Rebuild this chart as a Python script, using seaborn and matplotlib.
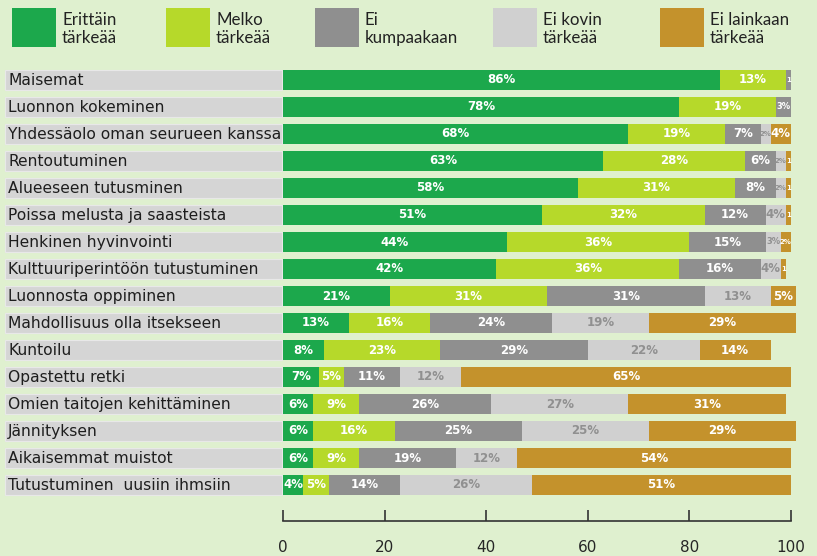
import matplotlib
matplotlib.use("Agg")
import matplotlib.pyplot as plt
import matplotlib.transforms as mtransforms
from matplotlib.patches import Rectangle
import seaborn as sns
import numpy as np
import pandas as pd

categories = [
    "Maisemat",
    "Luonnon kokeminen",
    "Yhdessäolo oman seurueen kanssa",
    "Rentoutuminen",
    "Alueeseen tutusminen",
    "Poissa melusta ja saasteista",
    "Henkinen hyvinvointi",
    "Kulttuuriperintöön tutustuminen",
    "Luonnosta oppiminen",
    "Mahdollisuus olla itsekseen",
    "Kuntoilu",
    "Opastettu retki",
    "Omien taitojen kehittäminen",
    "Jännityksen",
    "Aikaisemmat muistot",
    "Tutustuminen  uusiin ihmsiin",
]
erittain = [86, 78, 68, 63, 58, 51, 44, 42, 21, 13, 8, 7, 6, 6, 6, 4]
melko = [13, 19, 19, 28, 31, 32, 36, 36, 31, 16, 23, 5, 9, 16, 9, 5]
ei_kumpaakaan = [1, 3, 7, 6, 8, 12, 15, 16, 31, 24, 29, 11, 26, 25, 19, 14]
ei_kovin = [0, 0, 2, 2, 2, 4, 3, 4, 13, 19, 22, 12, 27, 25, 12, 26]
ei_lainkaan = [0, 0, 4, 1, 1, 1, 2, 1, 5, 29, 14, 65, 31, 29, 54, 51]

series_names = ["Erittäin\ntärkeää", "Melko\ntärkeää", "Ei\nkumpaakaan",
                "Ei kovin\ntärkeää", "Ei lainkaan\ntärkeää"]
series_values = [erittain, melko, ei_kumpaakaan, ei_kovin, ei_lainkaan]
colors = ["#1CA84C", "#B6D92A", "#8F8F8F", "#D0D0D0", "#C4922C"]
text_colors = ["white", "white", "white", "#909090", "white"]
xticks = [0, 20, 40, 60, 80, 100]

BG = "#DFF0CF"
W, H = 817, 556

sns.set_theme(style="white")
plt.rcParams["font.family"] = ["DejaVu Sans"]

fig = plt.figure(figsize=(W / 100, H / 100), dpi=100, facecolor=BG)
x0px, x100px = 283, 791
top_px, bot_px = 66.5, 498.5
xmax = 103
ax = fig.add_axes([x0px / W, 1 - bot_px / H, (x100px - x0px) * xmax / 100 / W,
                   (bot_px - top_px) / H])
ax.set_facecolor(BG)

df = pd.DataFrame({"cat": categories})
vals = np.array(series_values, dtype=float)
cums = np.cumsum(vals, axis=0)
for k in range(len(series_values) - 1, -1, -1):
    df["v"] = cums[k]
    sns.barplot(data=df, x="v", y="cat", orient="h", color=colors[k],
                saturation=1, width=0.75, ax=ax, linewidth=0, zorder=2)

# segment labels
for k in range(len(series_values)):
    for i in range(len(categories)):
        v = vals[k, i]
        if v <= 0:
            continue
        xc = cums[k, i] - v / 2
        s = f"{int(v)}%" if v >= 2 else f"{int(v)}"
        fs = 8.5 if v > 3 else (6 if v == 3 else 5)
        ax.text(xc, i, s, ha="center", va="center", fontsize=fs,
                fontweight="bold", color=text_colors[k], zorder=3)

# category label backgrounds and texts
blend = mtransforms.blended_transform_factory(fig.transFigure, ax.transData)
for i, c in enumerate(categories):
    ax.add_patch(Rectangle((5 / W, i - 0.375), (282 - 5) / W, 0.75,
                           transform=blend, facecolor="#D5D5D5",
                           edgecolor="#E8E8E8", linewidth=0.8, clip_on=False,
                           zorder=1))
    ax.text(8 / W, i + 0.03, c, transform=blend, ha="left", va="center",
            fontsize=11.2, color="#1E1E1E", zorder=3)

ax.set_xlim(0, xmax)
ax.set_ylim(len(categories) - 0.5, -0.5)
ax.set_ylabel("")
ax.set_xlabel("")
ax.set_yticks([])
ax.set_xticks(xticks)
ax.set_xticklabels([str(t) for t in xticks], fontsize=9.5, color="#222222",
                   family=["Lato", "DejaVu Sans"])
for s in ["top", "right", "left"]:
    ax.spines[s].set_visible(False)
ax.spines["bottom"].set_position(("outward", 16))
ax.spines["bottom"].set_bounds(0, 100)
ax.spines["bottom"].set_color("#333333")
ax.spines["bottom"].set_linewidth(1.2)
ax.tick_params(axis="x", direction="in", length=8, width=1.2, color="#333333",
               pad=14, bottom=True)

# legend
leg_x = [12, 166, 315, 493, 660]
for k, name in enumerate(series_names):
    fig.add_artist(Rectangle((leg_x[k] / W, 1 - 47 / H), 44 / W, 39 / H,
                             transform=fig.transFigure, facecolor=colors[k],
                             edgecolor="none"))
    fig.text((leg_x[k] + 50) / W, 1 - 29 / H, name, ha="left", va="center",
             fontsize=12.2, family=["Lato", "DejaVu Sans"], color="#222222",
             linespacing=1.1)

fig.savefig("out.png", dpi=100, facecolor=BG)
